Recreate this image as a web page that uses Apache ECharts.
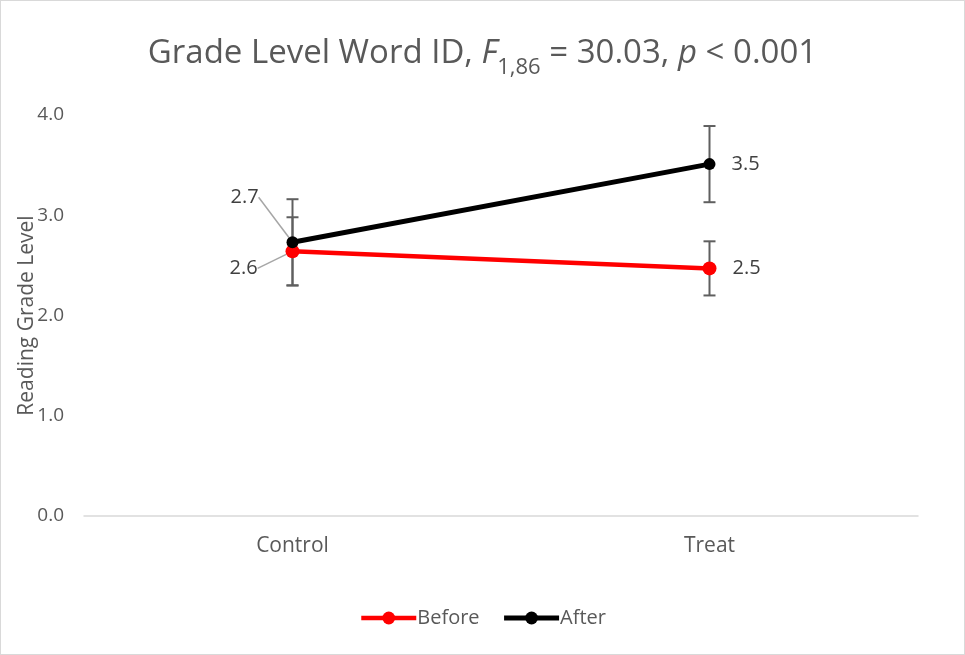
<!DOCTYPE html>
<html><head><meta charset="utf-8">
<script src="https://cdn.jsdelivr.net/npm/echarts@6/dist/echarts.min.js"></script>
<style>html,body{margin:0;padding:0;background:#fff}#c{width:965px;height:655px;box-sizing:border-box;border:1px solid #d9d9d9}</style>
</head><body><div id="c"></div>
<script>
const categories = ['Control', 'Treat'];
const beforeVals = [2.64, 2.47];
const afterVals = [2.73, 3.51];
const beforeErr = [0.34, 0.27];
const afterErr = [0.43, 0.38];
const yTicks = [0, 1, 2, 3, 4];

const chart = echarts.init(document.getElementById('c'));
const FONT = 'Open Sans';

function errSeries(vals, errs, z) {
  return {
    type: 'custom', z: z, silent: true,
    data: vals.map((v, i) => [i, v - errs[i], v + errs[i]]),
    renderItem: function (params, api) {
      const lo = api.coord([api.value(0), api.value(1)]);
      const hi = api.coord([api.value(0), api.value(2)]);
      const w = 6;
      const st = { stroke: '#5f5f5f', lineWidth: 2 };
      return { type: 'group', children: [
        { type: 'line', shape: { x1: lo[0], y1: lo[1], x2: hi[0], y2: hi[1] }, style: st },
        { type: 'line', shape: { x1: lo[0] - w, y1: lo[1], x2: lo[0] + w, y2: lo[1] }, style: st },
        { type: 'line', shape: { x1: hi[0] - w, y1: hi[1], x2: hi[0] + w, y2: hi[1] }, style: st }
      ]};
    }
  };
}

const labelStyle = { show: true, position: 'right', distance: 16, fontSize: 20, color: '#404040', fontFamily: FONT,
  formatter: p => p.value.toFixed(1) };

function pts(vals) {
  return vals.map((v, i) => ({ value: v, labelLine: { show: i === 0 } }));
}

chart.setOption({
  animation: false,
  title: {
    left: 'center', top: 20,
    text: '{a|Grade Level Word ID, }{i|F}{s|1,86}{a| = 30.03, }{i|p}{a| < 0.001}',
    textStyle: {
      rich: {
        a: { fontSize: 33, fontWeight: 'normal', color: '#595959', fontFamily: FONT, verticalAlign: 'bottom', lineHeight: 44 },
        i: { fontSize: 33, fontWeight: 'normal', color: '#595959', fontFamily: FONT, fontStyle: 'italic', verticalAlign: 'bottom', lineHeight: 44 },
        s: { fontSize: 22, fontWeight: 'normal', color: '#595959', fontFamily: FONT, verticalAlign: 'bottom', lineHeight: 28, padding: [0, 0, -9, 0] }
      }
    }
  },
  legend: {
    bottom: 21, left: 'center', itemWidth: 55, itemHeight: 16, itemGap: 22,
    lineStyle: { width: 'inherit' },
    textStyle: { fontSize: 20, color: '#595959', fontFamily: FONT, padding: [0, 0, 0, -4] },
    data: ['Before', 'After']
  },
  grid: { left: 83, right: 46, top: 114, bottom: 138, containLabel: false, outerBoundsMode: 'none' },
  xAxis: {
    type: 'category', data: categories, boundaryGap: true,
    axisLine: { lineStyle: { color: '#d9d9d9', width: 1.5 } },
    axisTick: { show: false },
    axisLabel: { fontSize: 21, color: '#595959', fontFamily: FONT, margin: 20 }
  },
  yAxis: {
    type: 'value', min: yTicks[0], max: yTicks[yTicks.length - 1], interval: 1,
    name: 'Reading Grade Level', nameLocation: 'middle', nameGap: 46, nameRotate: 90,
    nameMoveOverlap: false,
    nameTextStyle: { fontSize: 21, color: '#595959', fontFamily: FONT },
    axisLine: { show: false }, axisTick: { show: false },
    splitLine: { show: false },
    axisLabel: { fontSize: 19, color: '#595959', fontFamily: FONT, margin: 20, formatter: v => v.toFixed(1) }
  },
  series: [
    errSeries(beforeVals, beforeErr, 1),
    errSeries(afterVals, afterErr, 1),
    {
      name: 'Before', type: 'line', z: 3, data: pts(beforeVals),
      symbol: 'circle', symbolSize: 14,
      lineStyle: { color: '#ff0000', width: 4.5 }, itemStyle: { color: '#ff0000' },
      label: labelStyle,
      labelLine: { lineStyle: { color: '#a6a6a6', width: 1.5 } },
      labelLayout: p => p.dataIndex === 0 ? { dx: -86, dy: 17 } : { dx: 0, dy: 0 }
    },
    {
      name: 'After', type: 'line', z: 4, data: pts(afterVals),
      symbol: 'circle', symbolSize: 12,
      lineStyle: { color: '#000000', width: 5 }, itemStyle: { color: '#000000' },
      label: labelStyle,
      labelLine: { lineStyle: { color: '#a6a6a6', width: 1.5 } },
      labelLayout: p => p.dataIndex === 0 ? { dx: -84, dy: -45 } : { dx: 0, dy: 0 }
    }
  ]
});
</script></body></html>
